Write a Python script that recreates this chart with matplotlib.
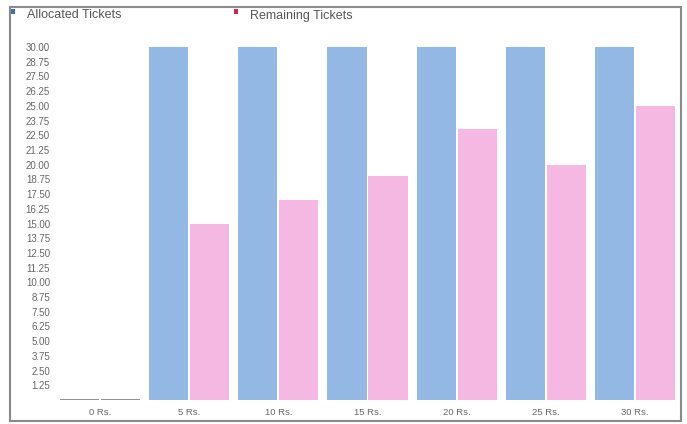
import matplotlib
matplotlib.use("Agg")
import matplotlib.pyplot as plt
from matplotlib.patches import Rectangle
import numpy as np

categories = ["0 Rs.", "5 Rs.", "10 Rs.", "15 Rs.", "20 Rs.", "25 Rs.", "30 Rs."]
allocated = [0, 30, 30, 30, 30, 30, 30]
remaining = [0, 15, 17, 19, 23, 20, 25]
y_ticks = [1.25 * i for i in range(1, 25)]
series_names = ["Allocated Tickets", "Remaining Tickets"]

BLUE = "#93b8e4"
PINK = "#f5b8e2"
TEXT = "#666666"

plt.rcParams["font.family"] = ["Liberation Sans", "DejaVu Sans"]

fig = plt.figure(figsize=(6.87, 4.24), dpi=100)
ax = fig.add_axes([55.5 / 687, 24 / 424, 624 / 687, 353 / 424])

x = np.arange(len(categories))
w = 0.44
off = 0.23

def edge_for(vals):
    return ["#8f8f8f" if v == 0 else "none" for v in vals]

ax.bar(x - off, allocated, width=w, color=BLUE, edgecolor=edge_for(allocated), linewidth=1.4)
ax.bar(x + off, remaining, width=w, color=PINK, edgecolor=edge_for(remaining), linewidth=1.4)

ax.set_xlim(-0.5, len(categories) - 0.5)
ax.set_ylim(0, 30)
ax.set_yticks(y_ticks)
ax.set_yticklabels([f"{v:.2f}" for v in y_ticks])
ax.set_xticks(x)
ax.set_xticklabels(categories)
ax.tick_params(axis="y", length=0, pad=4, labelsize=7, labelcolor=TEXT)
ax.tick_params(axis="x", length=0, pad=6, labelsize=6.8, labelcolor=TEXT)
for s in ax.spines.values():
    s.set_visible(False)

# legend entries along the top
legend_colors = ["#3d6fb3", "#d2264e"]
legend_x = [11, 234]
for name, col, lx in zip(series_names, legend_colors, legend_x):
    fig.add_artist(Rectangle((lx / 687, 1 - 14 / 424), 4 / 687, 5 / 424,
                             transform=fig.transFigure, facecolor=col, edgecolor="none"))
    fig.text((lx + 16) / 687, 1 - 15.5 / 424, name, fontsize=9, color="#555555",
             va="center", ha="left")

# outer frame
fig.add_artist(Rectangle((10 / 687, 3 / 424), 671 / 687, 414 / 424,
                         transform=fig.transFigure, fill=False,
                         edgecolor="#8a8a8a", linewidth=1.5))

fig.savefig("out.png", dpi=100)
